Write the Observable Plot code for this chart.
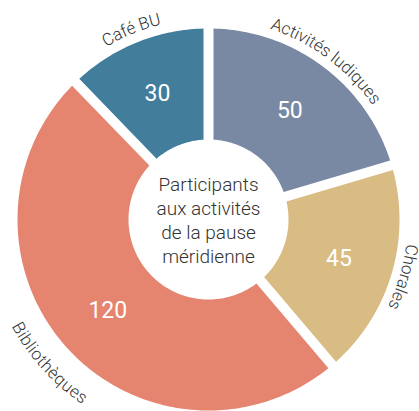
<!DOCTYPE html>
<html><head><meta charset="utf-8">
<script src="https://cdn.jsdelivr.net/npm/d3@7"></script>
<script src="https://cdn.jsdelivr.net/npm/@observablehq/plot@0.6"></script>
<style>body{margin:0;background:#fff;} svg{display:block}</style>
</head><body><div id="chart"></div>
<script>
const categories = ["Activités ludiques", "Chorales", "Bibliothèques", "Café BU"];
const values = [50, 45, 120, 30];
const colors = ["#7a89a3", "#d8bc83", "#e5846f", "#427d9b"];
const centerLines = ["Participants", "aux activités", "de la pause", "méridienne"];

const R_OUT = 191, R_IN = 80, GAP = 10, R_VAL = 136, R_LBL = 200, R_LBL_FLIP = 211;
const FONT = "Roboto, 'Open Sans', sans-serif";
const total = d3.sum(values);
const slices = [];
let acc = 0;
categories.forEach((c, i) => {
  const a0 = acc / total * 2 * Math.PI;
  acc += values[i];
  const a1 = acc / total * 2 * Math.PI;
  slices.push({category: c, value: values[i], a0, a1, mid: (a0 + a1) / 2});
});

const ringPts = [];
for (const s of slices) {
  const h = GAP / 2;
  const o0 = s.a0 + Math.asin(h / R_OUT), o1 = s.a1 - Math.asin(h / R_OUT);
  const i0 = s.a0 + Math.asin(h / R_IN), i1 = s.a1 - Math.asin(h / R_IN);
  const n = Math.max(8, Math.ceil((o1 - o0) / (Math.PI / 180)));
  for (let k = 0; k <= n; k++) {
    const t = o0 + (o1 - o0) * k / n;
    ringPts.push({category: s.category, x: R_OUT * Math.sin(t), y: R_OUT * Math.cos(t)});
  }
  for (let k = 0; k <= n; k++) {
    const t = i1 - (i1 - i0) * k / n;
    ringPts.push({category: s.category, x: R_IN * Math.sin(t), y: R_IN * Math.cos(t)});
  }
}

function arcLabels(index, scales) {
  const g = d3.create("svg:g");
  const defs = g.append("defs");
  const pt = (t, r) => [scales.x(r * Math.sin(t)), scales.y(r * Math.cos(t))];
  const span = 1.2;
  slices.forEach((s, i) => {
    const flip = Math.cos(s.mid) < -0.5;
    const r = flip ? R_LBL_FLIP : R_LBL;
    const rpx = Math.abs(scales.x(r) - scales.x(0));
    let p0, p1, sweep;
    if (!flip) { p0 = pt(s.mid - span, r); p1 = pt(s.mid + span, r); sweep = 1; }
    else { p0 = pt(s.mid + span, r); p1 = pt(s.mid - span, r); sweep = 0; }
    const id = "lblarc" + i;
    defs.append("path").attr("id", id)
      .attr("d", `M${p0[0]},${p0[1]}A${rpx},${rpx} 0 0 ${sweep} ${p1[0]},${p1[1]}`);
    g.append("text")
      .attr("font-family", FONT).attr("font-size", 17).attr("font-weight", 300)
      .attr("fill", "#333")
      .append("textPath").attr("href", "#" + id)
      .attr("startOffset", "50%").attr("text-anchor", "middle")
      .attr("dominant-baseline", flip ? "hanging" : "auto")
      .text(s.category);
  });
  return g.node();
}

const chart = Plot.plot({
  width: 419, height: 411, margin: 0,
  x: {domain: [-208, 211], axis: null},
  y: {domain: [-192, 219], axis: null},
  color: {domain: categories, range: colors},
  style: {background: "white", fontFamily: FONT},
  marks: [
    Plot.line(ringPts, {x: "x", y: "y", z: "category", fill: "category", stroke: "none", curve: "linear"}),
    Plot.text(slices, {
      x: d => R_VAL * Math.sin(d.mid), y: d => R_VAL * Math.cos(d.mid),
      text: d => String(d.value), fill: "white", fontSize: 23, fontWeight: 400
    }),
    Plot.text([centerLines.join("\n")], {
      x: () => 0, y: () => 0, text: d => d, lineHeight: 1.26,
      fontSize: 19, fontWeight: 300, fill: "#333"
    }),
    arcLabels
  ]
});
document.getElementById("chart").append(chart);
</script>
</body></html>
